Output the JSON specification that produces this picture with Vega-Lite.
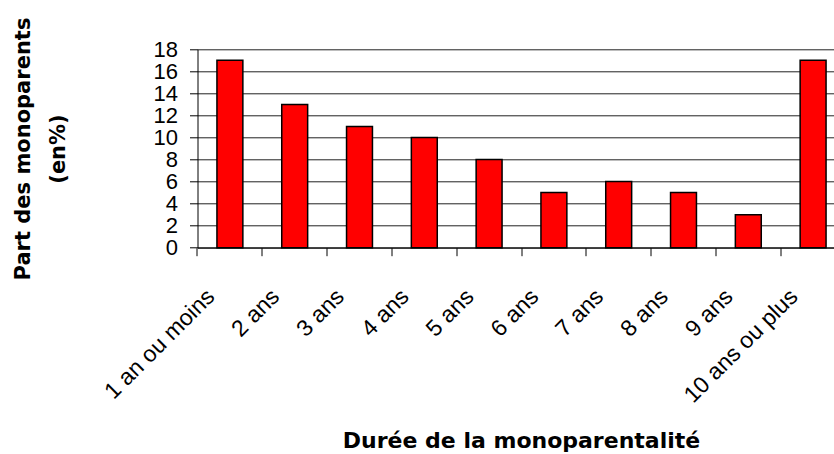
{
  "$schema": "https://vega.github.io/schema/vega-lite/v6.json",
  "autosize": "none",
  "width": 636.5,
  "height": 198.4,
  "padding": {"left": 197.5, "top": 49.3, "right": 0, "bottom": 206.3},
  "background": "white",
  "config": {
    "view": {"stroke": null},
    "font": "Liberation Sans"
  },
  "data": {
    "values": [
      {"duree": "1 an ou moins", "part": 17},
      {"duree": "2 ans", "part": 13},
      {"duree": "3 ans", "part": 11},
      {"duree": "4 ans", "part": 10},
      {"duree": "5 ans", "part": 8},
      {"duree": "6 ans", "part": 5},
      {"duree": "7 ans", "part": 6},
      {"duree": "8 ans", "part": 5},
      {"duree": "9 ans", "part": 3},
      {"duree": "10 ans ou plus", "part": 17}
    ]
  },
  "mark": {"type": "bar", "color": "#ff0000", "stroke": "#000000", "strokeWidth": 1.5},
  "encoding": {
    "x": {
      "field": "duree",
      "type": "nominal",
      "sort": null,
      "scale": {"range": [0, 648], "paddingInner": 0.6, "paddingOuter": 0.3},
      "axis": {
        "title": "Durée de la monoparentalité",
        "titleFont": "DejaVu Sans",
        "titleFontWeight": "bold",
        "titleFontSize": 22,
        "titleColor": "#000",
        "titleX": 323.5,
        "titleY": 199.3,
        "titleAlign": "center",
        "titleBaseline": "alphabetic",
        "bandPosition": -0.75,
        "labelAngle": -45,
        "labelAlign": "right",
        "labelBaseline": "middle",
        "labelOffset": -19,
        "labelPadding": 37,
        "labelFontSize": 23,
        "labelColor": "#000",
        "labelFont": "Liberation Sans",
        "labelOverlap": false,
        "labelBound": false,
        "tickSize": 8,
        "tickColor": "#000",
        "domainColor": "#000",
        "domainWidth": 1,
        "grid": false
      }
    },
    "y": {
      "field": "part",
      "type": "quantitative",
      "scale": {"domain": [0, 18], "nice": false},
      "axis": {
        "title": ["Part des monoparents", "(en%)"],
        "titleFont": "DejaVu Sans",
        "titleFontWeight": "bold",
        "titleFontSize": 21,
        "titleColor": "#000",
        "titleLineHeight": 35,
        "titleX": -174.5,
        "titleY": 99.2,
        "titleAngle": -90,
        "titleAlign": "center",
        "titleBaseline": "middle",
        "values": [0, 2, 4, 6, 8, 10, 12, 14, 16, 18],
        "labelFontSize": 22,
        "labelColor": "#000",
        "labelFont": "Liberation Sans",
        "labelOverlap": false,
        "labelPadding": 12,
        "tickSize": 8,
        "tickColor": "#000",
        "domainColor": "#000",
        "grid": true,
        "gridColor": "#222",
        "gridWidth": 1
      }
    }
  }
}
